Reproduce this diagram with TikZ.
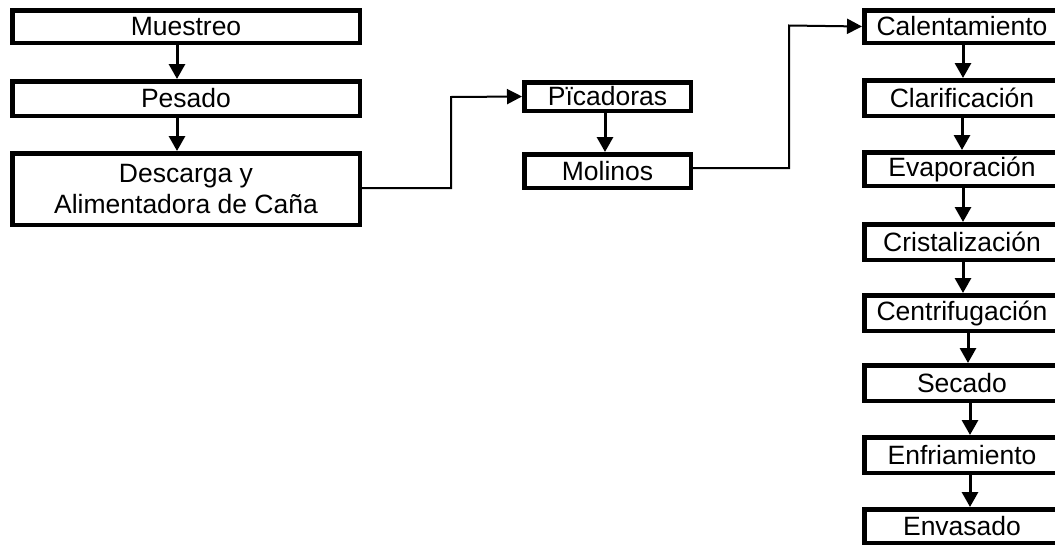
\documentclass[tikz,border=0pt]{standalone}
\usepackage{fontspec}
\setmainfont{Liberation Sans}
\usetikzlibrary{arrows.meta}
\begin{document}
\begin{tikzpicture}[x=1pt,y=-1pt,
  box/.style={draw=black,line width=4.5pt,inner sep=0pt,fill=white,
    font=\fontsize{26.5}{31}\selectfont,align=center},
  flow/.style={line width=3pt,-{Triangle[width=16pt,length=15pt]}},
  link/.style={line width=2pt,-{Triangle[width=15pt,length=15pt]}}]
\useasboundingbox (0,0) rectangle (1055,544);
% left column
\node[box,minimum width=347.5pt,minimum height=32.5pt] (mue) at (186,26.5) {Muestreo};
\node[box,minimum width=347.5pt,minimum height=34.5pt] (pes) at (186,98.5) {Pesado};
\node[box,minimum width=347.5pt,minimum height=71.5pt] (des) at (186,189) {Descarga y\\Alimentadora de Caña};
% middle
\node[box,minimum width=166.5pt,minimum height=28.5pt] (pic) at (607.5,96.5) {Pïcadoras};
\node[box,minimum width=166.5pt,minimum height=33.5pt] (mol) at (607.5,171) {Molinos};
% right column
\node[box,minimum width=195.5pt,minimum height=32.5pt] (cal) at (962,26.5) {Calentamiento};
\node[box,minimum width=195.5pt,minimum height=35.5pt] (cla) at (962,98) {Clarificación};
\node[box,minimum width=195.5pt,minimum height=33.5pt] (eva) at (962,169) {Evaporación};
\node[box,minimum width=195.5pt,minimum height=35.5pt] (cri) at (962,242) {Cristalización};
\node[box,minimum width=195.5pt,minimum height=35.5pt] (cen) at (962,313) {Centrifugación};
\node[box,minimum width=195.5pt,minimum height=35.5pt] (sec) at (962,383) {Secado};
\node[box,minimum width=195.5pt,minimum height=35.5pt] (enf) at (962,455) {Enfriamiento};
\node[box,minimum width=195.5pt,minimum height=33.5pt] (env) at (962,526) {Envasado};
% vertical arrows
\draw[flow] (mue.south -| 177,0) -- (pes.north -| 177,0);
\draw[flow] (pes.south -| 177,0) -- (des.north -| 177,0);
\draw[flow] (pic.south -| 605,0) -- (mol.north -| 605,0);
\draw[flow] (cal.south -| 963,0) -- (cla.north -| 963,0);
\draw[flow] (cla.south -| 962,0) -- (eva.north -| 962,0);
\draw[flow] (eva.south -| 963,0) -- (cri.north -| 963,0);
\draw[flow] (cri.south -| 963,0) -- (cen.north -| 963,0);
\draw[flow] (cen.south -| 968,0) -- (sec.north -| 968,0);
\draw[flow] (sec.south -| 970,0) -- (enf.north -| 970,0);
\draw[flow] (enf.south -| 970,0) -- (env.north -| 970,0);
% elbow connectors
\coordinate (j1) at (451,97);
\coordinate (j2) at (789,25.5);
\draw[link] (des.east |- 0,188) -| (j1) -- (pic.west);
\draw[link] (mol.east |- 0,168) -| (j2) -- (cal.west);
\end{tikzpicture}
\end{document}
